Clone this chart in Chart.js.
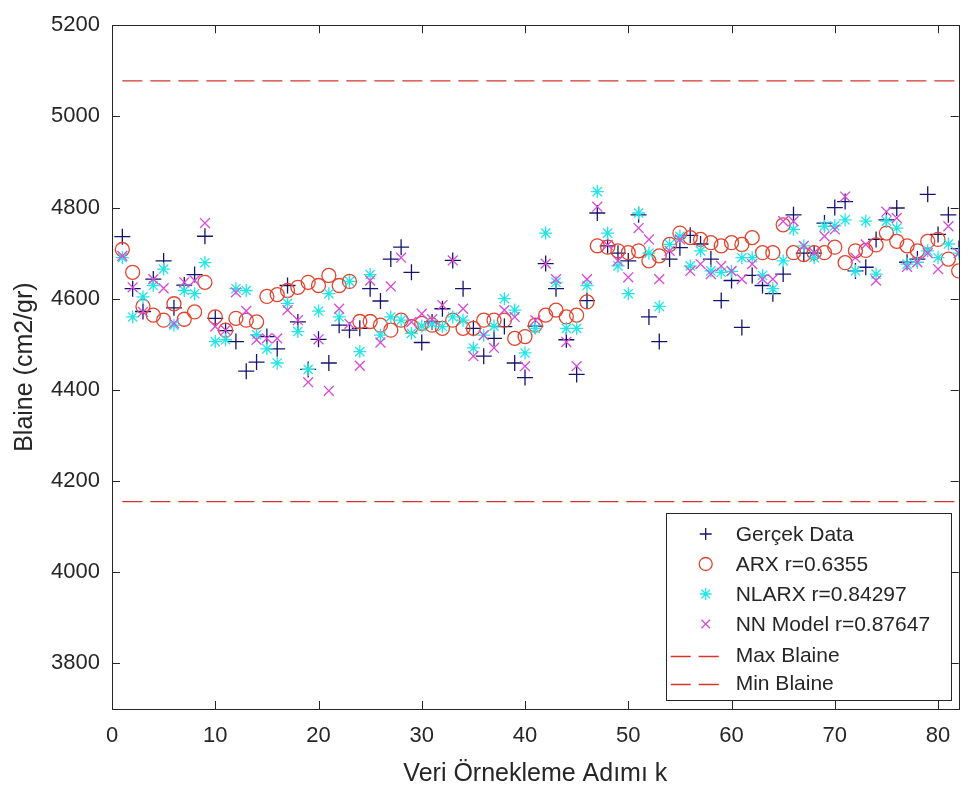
<!DOCTYPE html>
<html>
<head>
<meta charset="utf-8">
<script src="https://cdn.jsdelivr.net/npm/chart.js@4.4.0/dist/chart.umd.min.js"></script>
<style>
    html, body { margin: 0; padding: 0; background: #ffffff; }
    #wrap { width: 968px; height: 796px; }
</style>
</head>
<body>
<div id="wrap"><canvas id="chart" width="968" height="796"></canvas></div>
<script>
// Blaine data, one value per sampling step k = 1..82
const gercekData = [
    4736, 4622, 4572, 4643, 4683, 4580, 4630, 4653, 4737, 4557,
    4530, 4506, 4441, 4461, 4517, 4490, 4629, 4549, 4445, 4511,
    4459, 4542, 4531, 4535, 4622, 4595, 4687, 4713, 4658, 4504,
    4549, 4578, 4684, 4622, 4535, 4474, 4513, 4539, 4459, 4427,
    4540, 4677, 4622, 4510, 4434, 4596, 4788, 4716, 4700, 4683,
    4784, 4560, 4506, 4687, 4712, 4739, 4720, 4687, 4596, 4640,
    4537, 4651, 4629, 4611, 4654, 4784, 4700, 4700, 4766, 4800,
    4813, 4661, 4669, 4730, 4773, 4799, 4680, 4687, 4829, 4741,
    4784, 4710
];
const arxData = [
    4708, 4658, 4583, 4564, 4553, 4589, 4555, 4571, 4636, 4560,
    4531, 4557, 4553, 4549, 4605, 4609, 4618, 4625, 4636, 4629,
    4651, 4629, 4638, 4550, 4550, 4542, 4531, 4553, 4539, 4546,
    4542, 4535, 4553, 4535, 4535, 4553, 4553, 4553, 4513, 4517,
    4542, 4564, 4575, 4560, 4564, 4593, 4716, 4713, 4705, 4701,
    4705, 4683, 4694, 4719, 4744, 4734, 4730, 4723, 4716, 4723,
    4719, 4734, 4701, 4701, 4762, 4701, 4697, 4701, 4701, 4713,
    4679, 4705, 4706, 4718, 4744, 4726, 4716, 4705, 4726, 4730,
    4687, 4661
];
const nlarxData = [
    4690, 4560, 4604, 4629, 4665, 4542, 4618, 4611, 4679, 4506,
    4510, 4622, 4618, 4521, 4490, 4459, 4590, 4528, 4445, 4573,
    4611, 4560, 4638, 4484, 4653, 4520, 4560, 4553, 4524, 4540,
    4545, 4539, 4560, 4553, 4492, 4520, 4540, 4600, 4575, 4481,
    4535, 4744, 4636, 4535, 4535, 4629, 4835, 4744, 4672, 4611,
    4788, 4700, 4583, 4719, 4737, 4672, 4705, 4661, 4658, 4660,
    4690, 4690, 4651, 4622, 4683, 4752, 4716, 4690, 4759, 4760,
    4773, 4661, 4770, 4654, 4770, 4755, 4676, 4680, 4705, 4690,
    4720, 4700
];
const nnData = [
    4694, 4625, 4571, 4643, 4623, 4546, 4636, 4640, 4766, 4539,
    4531, 4614, 4573, 4510, 4513, 4513, 4575, 4553, 4417, 4511,
    4398, 4578, 4545, 4453, 4640, 4504, 4627, 4690, 4549, 4567,
    4555, 4586, 4684, 4578, 4474, 4520, 4492, 4575, 4560, 4452,
    4553, 4677, 4643, 4505, 4452, 4643, 4802, 4718, 4683, 4647,
    4755, 4730, 4643, 4705, 4730, 4661, 4676, 4654, 4672, 4661,
    4643, 4676, 4643, 4643, 4770, 4770, 4716, 4701, 4737, 4752,
    4824, 4690, 4719, 4640, 4791, 4777, 4670, 4680, 4700, 4665,
    4759, 4700
];
const maxBlaine = 5078;
const minBlaine = 4155;

const xTicks = [0, 10, 20, 30, 40, 50, 60, 70, 80];
const yTicks = [3800, 4000, 4200, 4400, 4600, 4800, 5000, 5200];

const axisColor = '#262626';
const fontFamily = '"Liberation Sans", Arial, sans-serif';

function toPoints(values) {
    return values.map((v, i) => ({ x: i + 1, y: v }));
}

const series = [
    { label: 'Gerçek Data', data: gercekData, style: 'cross', radius: 8, color: '#14146e' },
    { label: 'ARX r=0.6355', data: arxData, style: 'circle', radius: 7, color: '#e2432c' },
    { label: 'NLARX r=0.84297', data: nlarxData, style: 'star', radius: 6.5, color: '#22e6e6' },
    { label: 'NN Model r=0.87647', data: nnData, style: 'crossRot', radius: 7, color: '#d84ad8' }
];
const limits = [
    { label: 'Max Blaine', value: maxBlaine, color: '#d8342c' },
    { label: 'Min Blaine', value: minBlaine, color: '#d8342c' }
];

const datasets = [];
series.forEach((s, i) => {
    datasets.push({
        type: 'scatter',
        label: s.label,
        data: toPoints(s.data),
        pointStyle: s.style,
        pointRadius: s.radius,
        pointHoverRadius: s.radius,
        pointBorderWidth: 1.3,
        borderColor: s.color,
        backgroundColor: 'rgba(0,0,0,0)',
        order: 10 - i
    });
});
limits.forEach((l, i) => {
    datasets.push({
        type: 'line',
        label: l.label,
        data: gercekData.map((v, j) => ({ x: j + 1, y: l.value })),
        borderColor: l.color,
        borderWidth: 1.3,
        borderDash: [20, 8],
        pointRadius: 0,
        fill: false,
        order: 4 - i
    });
});

// MATLAB style box with inward ticks + legend inside the axes
const matlabPlugin = {
    id: 'matlabBox',
    afterDraw(chart) {
        const { ctx, chartArea: a, scales } = chart;
        const tick = 8;
        ctx.save();
        ctx.strokeStyle = axisColor;
        ctx.lineWidth = 1;
        ctx.strokeRect(Math.round(a.left) + 0.5, Math.round(a.top) + 0.5,
            Math.round(a.right - a.left), Math.round(a.bottom - a.top));
        ctx.beginPath();
        xTicks.forEach(v => {
            const x = Math.round(scales.x.getPixelForValue(v)) + 0.5;
            ctx.moveTo(x, a.bottom); ctx.lineTo(x, a.bottom - tick);
            ctx.moveTo(x, a.top); ctx.lineTo(x, a.top + tick);
        });
        yTicks.forEach(v => {
            const y = Math.round(scales.y.getPixelForValue(v)) + 0.5;
            ctx.moveTo(a.left, y); ctx.lineTo(a.left + tick, y);
            ctx.moveTo(a.right, y); ctx.lineTo(a.right - tick, y);
        });
        ctx.stroke();

        // legend box
        const bx = a.right - 293, by = a.bottom - 196, bw = 285, bh = 187;
        ctx.fillStyle = '#ffffff';
        ctx.fillRect(bx, by, bw, bh);
        ctx.strokeStyle = axisColor;
        ctx.strokeRect(Math.round(bx) + 0.5, Math.round(by) + 0.5, bw, bh);
        ctx.font = '21px ' + fontFamily;
        ctx.textBaseline = 'middle';
        ctx.textAlign = 'left';
        const rowY = i => by + 21 + i * 30;
        const markX = bx + 40;
        series.forEach((s, i) => {
            ctx.strokeStyle = s.color;
            ctx.fillStyle = 'rgba(0,0,0,0)';
            ctx.lineWidth = 1.3;
            Chart.helpers.drawPoint(ctx, {
                pointStyle: s.style, radius: s.style === 'circle' ? 6.5 : 6,
                rotation: 0, borderWidth: 1.3
            }, markX, rowY(i));
            ctx.fillStyle = axisColor;
            ctx.fillText(s.label, bx + 70, rowY(i) + 1);
        });
        limits.forEach((l, i) => {
            const y = Math.round(rowY(4 + i) + (i === 0 ? 2 : 0)) + 0.5;
            ctx.strokeStyle = l.color;
            ctx.lineWidth = 1.3;
            ctx.setLineDash([20, 8]);
            ctx.beginPath();
            ctx.moveTo(bx + 5, y); ctx.lineTo(bx + 53, y);
            ctx.stroke();
            ctx.setLineDash([]);
            ctx.fillStyle = axisColor;
            ctx.fillText(l.label, bx + 70, y);
        });
        ctx.restore();
    }
};

new Chart(document.getElementById('chart'), {
    type: 'scatter',
    data: { datasets: datasets },
    options: {
        responsive: false,
        animation: false,
        layout: { padding: { top: 13, right: 8, left: 0, bottom: 0 } },
        plugins: {
            legend: { display: false },
            tooltip: { enabled: false }
        },
        scales: {
            x: {
                type: 'linear',
                min: 0,
                max: 82,
                afterBuildTicks: s => { s.ticks = xTicks.map(v => ({ value: v })); },
                afterFit: s => { s.height = 87; },
                grid: { display: false, drawTicks: false },
                border: { display: false },
                ticks: {
                    color: axisColor,
                    padding: 14,
                    maxRotation: 0,
                    callback: v => String(v),
                    font: { family: fontFamily, size: 22 }
                },
                title: {
                    display: true,
                    text: 'Veri Örnekleme Adımı k',
                    color: axisColor,
                    padding: { top: 0, bottom: 7 },
                    font: { family: fontFamily, size: 25 }
                }
            },
            y: {
                type: 'linear',
                min: 3700,
                max: 5200,
                afterBuildTicks: s => { s.ticks = yTicks.map(v => ({ value: v })); },
                afterFit: s => { s.width = 112; },
                grid: { display: false, drawTicks: false },
                border: { display: false },
                ticks: {
                    color: axisColor,
                    padding: 12,
                    callback: v => String(v),
                    font: { family: fontFamily, size: 22 }
                },
                title: {
                    display: true,
                    text: 'Blaine (cm2/gr)',
                    color: axisColor,
                    padding: { top: 10, bottom: 0 },
                    font: { family: fontFamily, size: 25 }
                }
            }
        }
    },
    plugins: [matlabPlugin]
});
</script>
</body>
</html>
